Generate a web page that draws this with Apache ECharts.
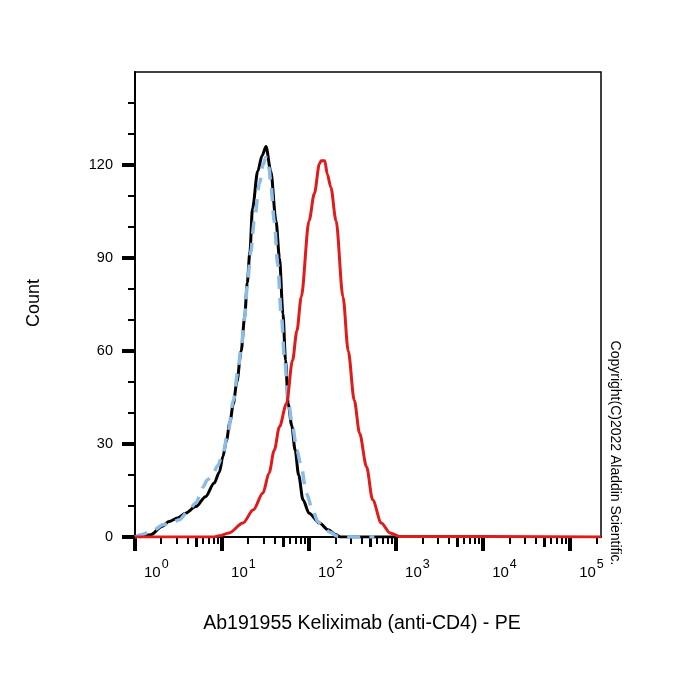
<!DOCTYPE html>
<html>
<head>
<meta charset="utf-8">
<script src="https://cdn.jsdelivr.net/npm/echarts@6/dist/echarts.min.js"></script>
<style>
  html, body { margin: 0; padding: 0; background: #fff; }
  #chart { width: 700px; height: 700px; }
</style>
</head>
<body>
<div id="chart"></div>
<script>
// x values are log10 of the PE intensity, y values are event counts
const blackX = [0.05, 0.18, 0.31, 0.39, 0.49, 0.58, 0.70, 0.81, 0.91, 0.97, 1.01, 1.05, 1.09, 1.13, 1.17, 1.22, 1.26, 1.29, 1.32, 1.35, 1.41, 1.46, 1.505,
  1.56, 1.62, 1.66, 1.70, 1.73, 1.76, 1.80, 1.84, 1.88, 1.93, 2.00, 2.12, 2.22, 2.31, 2.36, 3.00]
const blackY = [0, 0.7, 3.4, 5.0, 6.1, 7.7, 9.8, 13, 17.4, 21, 26, 31, 37, 43, 50, 60, 71, 82, 92, 106, 118, 123, 126,
  118, 102, 90, 72, 57, 43, 36, 28, 20, 12, 7.7, 4.5, 2.3, 0.7, 0, 0]

const blueX = [0.0, 0.07, 0.20, 0.33, 0.45, 0.51, 0.60, 0.70, 0.78, 0.83, 0.89, 0.95, 1.01, 1.07, 1.13, 1.18, 1.22, 1.26, 1.29, 1.33, 1.37, 1.43, 1.47, 1.505,
  1.54, 1.56, 1.60, 1.64, 1.68, 1.72, 1.76, 1.81, 1.86, 1.91, 1.97, 2.04, 2.10, 2.16, 2.24, 2.32, 2.40, 2.75]
const blueY = [0, 0.7, 2, 4, 5, 5.6, 8, 11, 16, 18.4, 20, 23, 27, 34, 44, 53, 61, 71, 81, 92, 102, 114, 120, 122.5,
  119, 114, 102, 88, 72, 57, 44, 35.6, 28, 22.7, 14, 8.8, 5, 3.4, 1.5, 0.3, 0, 0]

const redX = [0.0, 0.90, 0.97, 1.08, 1.24, 1.36, 1.47, 1.54, 1.60, 1.66, 1.74, 1.81, 1.86, 1.91, 2.00, 2.06, 2.12, 2.14, 2.18, 2.21, 2.25, 2.31, 2.39, 2.45,
  2.52, 2.58, 2.66, 2.73, 2.83, 2.93, 3.04, 5.354]
const redY = [0, 0, 0.4, 1.3, 4.5, 8.8, 14.2, 20.6, 28, 35.6, 43, 57, 66.5, 77.4, 102, 110.7, 120.5, 121.4, 121.4, 117, 112.8, 102, 77.4, 60,
  44, 33.5, 22.7, 12, 4.5, 1.3, 0.2, 0]

const decades = [0, 1, 2, 3, 4, 5]
const fiveTicks = [0.699, 1.699, 2.699, 3.699, 4.699]
const minorTicks = []
const minorMults = [2, 3, 4, 6, 7, 8, 9]
decades.forEach(d => minorMults.forEach(m => {
  const v = d + Math.log10(m)
  if (v < 5.354) minorTicks.push(v)
}))

const yMajor = [0, 30, 60, 90, 120]
const yMinor = [10, 20, 40, 50, 70, 80, 100, 110, 130, 140]

const X_MAX = 5.354
const font = 'Liberation Sans, Arial, sans-serif'

const pairs = (xs, ys) => xs.map((x, i) => [x, ys[i]])

const chart = echarts.init(document.getElementById('chart'))

const tickAxis = (values, len, width) => ({
  type: 'value', min: 0, max: X_MAX, position: 'bottom',
  axisLine: { show: false },
  splitLine: { show: false },
  axisLabel: { show: false },
  axisTick: { show: true, customValues: values, length: len, lineStyle: { color: '#000', width: width } }
})

const option = {
  animation: false,
  backgroundColor: '#fff',
  grid: {
    left: 135, right: 99, top: 72, bottom: 163,
    show: true, borderColor: '#000', borderWidth: 1.5, backgroundColor: 'transparent'
  },
  xAxis: [
    {
      type: 'value', min: 0, max: X_MAX, position: 'bottom',
      axisLine: { show: true, lineStyle: { color: '#000', width: 2 } },
      splitLine: { show: false },
      axisTick: { show: true, customValues: decades, length: 14, lineStyle: { color: '#000', width: 4 } },
      axisLabel: {
        customValues: decades,
        margin: 21,
        align: 'left',
        padding: [0, 0, 0, 9],
        formatter: v => '{b|10}{s|' + Math.round(v) + '}',
        rich: {
          b: { fontFamily: font, fontSize: 15, color: '#000' },
          s: { fontFamily: font, fontSize: 12.5, color: '#000', padding: [0, 0, 16, 1] }
        }
      }
    },
    tickAxis(fiveTicks, 10, 3),
    tickAxis(minorTicks, 7, 2)
  ],
  yAxis: [
    {
      type: 'value', min: 0, max: 150, position: 'left',
      axisLine: { show: true, lineStyle: { color: '#000', width: 2 } },
      splitLine: { show: false },
      axisTick: { show: true, customValues: yMajor, length: 13, lineStyle: { color: '#000', width: 4 } },
      axisLabel: { customValues: yMajor, margin: 22, fontFamily: font, fontSize: 14.5, color: '#000' }
    },
    {
      type: 'value', min: 0, max: 150, position: 'left',
      axisLine: { show: false },
      splitLine: { show: false },
      axisLabel: { show: false },
      axisTick: { show: true, customValues: yMinor, length: 7, lineStyle: { color: '#000', width: 2 } }
    }
  ],
  series: [
    {
      name: 'isotype', type: 'line', data: pairs(blackX, blackY),
      showSymbol: false, smooth: 0.3, smoothMonotone: 'x',
      lineStyle: { color: '#000', width: 3 }, z: 2
    },
    {
      name: 'blank', type: 'line', data: pairs(blueX, blueY),
      showSymbol: false, smooth: 0.3, smoothMonotone: 'x',
      lineStyle: { color: '#8bbbe8', width: 3.5, type: [13, 9] }, z: 3
    },
    {
      name: 'Keliximab', type: 'line', data: pairs(redX, redY),
      showSymbol: false, smooth: 0.3, smoothMonotone: 'x',
      lineStyle: { color: '#e01b1b', width: 3 }, z: 4
    }
  ],
  graphic: [
    {
      type: 'text', x: 362, y: 624,
      style: { text: 'Ab191955 Keliximab (anti-CD4) - PE', font: '19.5px ' + font, fill: '#000', align: 'center', verticalAlign: 'middle' }
    },
    {
      type: 'text', x: 34, y: 303, rotation: Math.PI / 2,
      style: { text: 'Count', font: '18px ' + font, fill: '#000', align: 'center', verticalAlign: 'middle' }
    },
    {
      type: 'text', x: 615, y: 453, rotation: -Math.PI / 2,
      style: { text: 'Copyright(C)2022 Aladdin Scientific.', font: '14px ' + font, fill: '#000', align: 'center', verticalAlign: 'middle' }
    }
  ]
}

chart.setOption(option)
</script>
</body>
</html>
